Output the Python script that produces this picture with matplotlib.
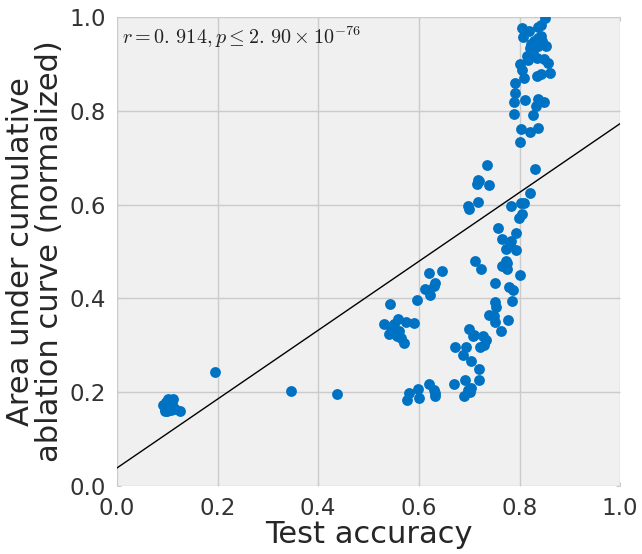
import numpy as np
import matplotlib
matplotlib.use('Agg')
import matplotlib.pyplot as plt

# %% datos
x_acc = [0.092, 0.095, 0.098, 0.100, 0.102, 0.105, 0.108, 0.110, 0.112, 0.095, 0.100, 0.115, 0.125, 0.105,
         0.195, 0.347, 0.438,
         0.542, 0.531, 0.558, 0.574, 0.590, 0.544, 0.541, 0.547, 0.557, 0.564, 0.570, 0.597, 0.620, 0.647,
         0.633, 0.630, 0.612, 0.622, 0.550, 0.560,
         0.576, 0.580, 0.598, 0.600, 0.620, 0.631, 0.632, 0.633,
         0.670, 0.691, 0.690, 0.703, 0.701, 0.720, 0.720, 0.703, 0.688, 0.672, 0.693, 0.700, 0.709, 0.727,
         0.733, 0.730, 0.722, 0.740, 0.750, 0.752, 0.751, 0.753, 0.763, 0.778, 0.786, 0.751, 0.780, 0.788,
         0.801, 0.708, 0.698,
         0.735, 0.720, 0.715, 0.740, 0.831, 0.821, 0.698, 0.700, 0.717, 0.783, 0.803, 0.808, 0.804, 0.799,
         0.758, 0.794, 0.766, 0.783, 0.781, 0.773, 0.794, 0.711, 0.723, 0.773, 0.776, 0.766, 0.775, 0.718,
         0.851, 0.843, 0.836, 0.805, 0.818, 0.807, 0.843, 0.836, 0.828, 0.823, 0.845, 0.821, 0.836, 0.853,
         0.826, 0.815, 0.816, 0.835, 0.849, 0.856, 0.801, 0.804, 0.808, 0.835, 0.843, 0.861, 0.791, 0.791,
         0.790, 0.811, 0.837, 0.849, 0.833, 0.790, 0.826, 0.803, 0.821, 0.836, 0.801]
y_auc = [0.172, 0.165, 0.178, 0.160, 0.185, 0.170, 0.162, 0.175, 0.185, 0.160, 0.170, 0.165, 0.160, 0.180,
         0.243, 0.203, 0.197,
         0.388, 0.345, 0.355, 0.349, 0.348, 0.340, 0.323, 0.333, 0.319, 0.316, 0.305, 0.397, 0.454, 0.459,
         0.433, 0.426, 0.421, 0.407, 0.345, 0.330,
         0.184, 0.199, 0.207, 0.187, 0.217, 0.205, 0.192, 0.199,
         0.217, 0.226, 0.192, 0.209, 0.200, 0.226, 0.249, 0.267, 0.280, 0.296, 0.296, 0.335, 0.321, 0.319,
         0.312, 0.301, 0.296, 0.365, 0.363, 0.349, 0.392, 0.382, 0.330, 0.353, 0.395, 0.432, 0.425, 0.417,
         0.449, 0.319, 0.204,
         0.684, 0.650, 0.645, 0.641, 0.675, 0.625, 0.598, 0.590, 0.606, 0.598, 0.603, 0.604, 0.581, 0.572,
         0.551, 0.540, 0.527, 0.522, 0.515, 0.506, 0.504, 0.479, 0.462, 0.479, 0.475, 0.469, 0.463, 0.652,
         0.998, 0.984, 0.978, 0.976, 0.970, 0.958, 0.960, 0.955, 0.950, 0.942, 0.950, 0.935, 0.938, 0.938,
         0.928, 0.917, 0.908, 0.912, 0.910, 0.903, 0.900, 0.887, 0.870, 0.875, 0.878, 0.880, 0.860, 0.839,
         0.820, 0.824, 0.825, 0.818, 0.811, 0.793, 0.791, 0.762, 0.756, 0.764, 0.734]

# recta de ajuste
intercept = 0.038
slope = 0.735
stats_label = r'$r = 0.\,914, p \leq 2.\,90 \times 10^{-76}$'

ticks = [0.0, 0.2, 0.4, 0.6, 0.8, 1.0]

# %%
plt.rcParams['mathtext.fontset'] = 'cm'
fig = plt.figure(figsize=(6.42, 5.54), dpi=100)
ax = fig.add_axes([0.182, 0.123, 0.784, 0.846])
ax.set_facecolor('#f0f0f0')
for s in ax.spines.values():
    s.set_visible(False)
ax.grid(True, color='#cbcbcb', linewidth=1)
ax.set_axisbelow(True)

xl = np.array([0.0, 1.0])
ax.plot(xl, intercept + slope * xl, color='black', linewidth=1)
ax.plot(x_acc, y_auc, 'o', color='#0072c4', markersize=7.8, markeredgewidth=0)

ax.text(0.01, 0.985, stats_label, transform=ax.transAxes, ha='left', va='top',
        fontsize=14.5, color='#222222')

ax.set_xlim(0, 1)
ax.set_ylim(0, 1)
ax.set_xticks(ticks)
ax.set_yticks(ticks)
ax.tick_params(direction='in', length=3, color='#cbcbcb', top=True, right=True,
               labelsize=16.5, labelcolor='#333333', pad=8)
ax.set_xlabel('Test accuracy', fontsize=22, color='#262626', labelpad=0)
ax.set_ylabel('Area under cumulative\nablation curve (normalized)', fontsize=22,
              color='#262626', linespacing=1.0)

fig.savefig('out.png', dpi=100, facecolor='white')
